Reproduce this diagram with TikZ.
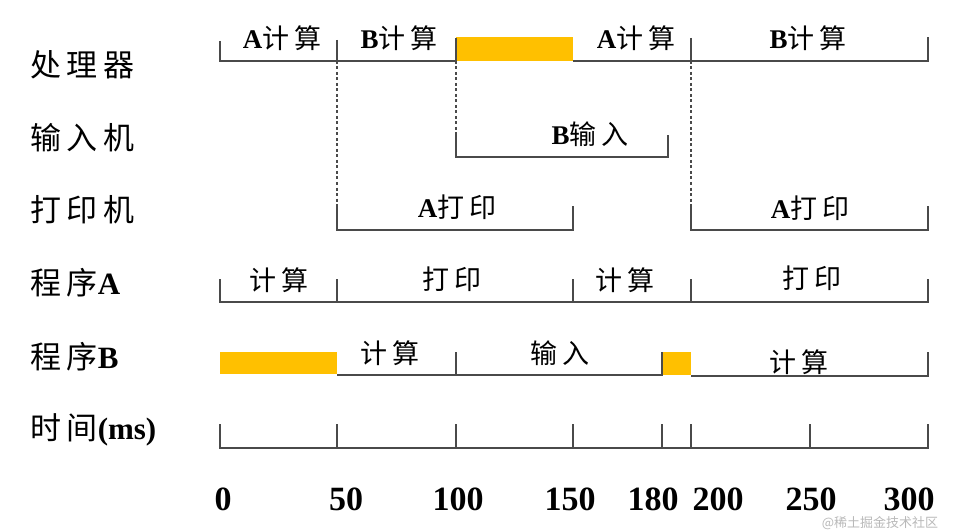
\documentclass[tikz,border=0pt]{standalone}
\usepackage{fontspec}
\setmainfont{Liberation Serif}
\newfontfamily\cjk[LetterSpace=18]{Noto Sans CJK SC}
\newfontfamily\wmfont{Noto Sans CJK SC}
\newcommand\zh[1]{{\cjk #1}}
\newcommand\la[1]{{\bfseries #1}}
\definecolor{linec}{HTML}{4A4A4A}
\definecolor{barfill}{HTML}{FFC000}
\begin{document}
\begin{tikzpicture}[x=1pt,y=-1pt,
  bar/.style={draw=linec,line width=1.6pt},
  guide/.style={draw=linec,line width=1.1pt,dash pattern=on 3pt off 2.5pt},
  busy/.style={fill=barfill,draw=none},
  rowlabel/.style={anchor=west,inner sep=0pt,font=\fontsize{31}{31}\selectfont},
  seglabel/.style={inner sep=0pt,font=\fontsize{27}{27}\selectfont},
  numlabel/.style={inner sep=0pt,font=\fontsize{34}{34}\selectfont\bfseries}]
\useasboundingbox (0,0) rectangle (964,532);
\fill[white] (0,0) rectangle (964,532);

% row labels
\node[rowlabel] (lcpu) at (30,65) {\zh{处理器}};
\node[rowlabel] (lin)  at (30,138) {\zh{输入机}};
\node[rowlabel] (lpr)  at (30,210) {\zh{打印机}};
\node[rowlabel] (lpa)  at (30,283) {\zh{程序}\la{A}};
\node[rowlabel] (lpb)  at (30,357) {\zh{程序}\la{B}};
\node[rowlabel] (lt)   at (30,430) {\zh{时间}\la{(ms)}};

% time coordinates
\coordinate (t0) at (220,0);
\coordinate (t50) at (337,0);
\coordinate (t100) at (456,0);
\coordinate (t150) at (573,0);
\coordinate (t180) at (662,0);
\coordinate (t200) at (691,0);
\coordinate (t250) at (810,0);
\coordinate (t300) at (928,0);

% dashed guides
\draw[guide] (337,61) -- (337,206);
\draw[guide] (456,61) -- (456,135);
\draw[guide] (691,61) -- (691,206);

% processor row
\fill[busy] (456,37) rectangle (573,61);
\draw[bar] (220,41) -- (220,61) -- (456,61);
\draw[bar] (337,40) -- (337,61);
\draw[bar] (456,38) -- (456,61);
\draw[bar] (573,61) -- (928,61) -- (928,37);
\draw[bar] (691,38) -- (691,61);
\node[seglabel] (c1) at (282,38) {\la{A}\zh{计算}};
\node[seglabel] (c2) at (399,38) {\la{B}\zh{计算}};
\node[seglabel] (c3) at (636,38) {\la{A}\zh{计算}};
\node[seglabel] (c4) at (808,38) {\la{B}\zh{计算}};

% input machine row
\draw[bar] (456,135) -- (456,157) -- (668,157) -- (668,135);
\node[seglabel] (i1) at (590,134) {\la{B}\zh{输入}};

% printer row
\draw[bar] (337,206) -- (337,230) -- (573,230) -- (573,206);
\draw[bar] (691,206) -- (691,230) -- (928,230) -- (928,206);
\node[seglabel] (p1) at (457,207) {\la{A}\zh{打印}};
\node[seglabel] (p2) at (810,208) {\la{A}\zh{打印}};

% program A row
\draw[bar] (220,279) -- (220,302) -- (928,302) -- (928,279);
\foreach \x in {337,573,691} \draw[bar] (\x,279) -- (\x,302);
\node[seglabel] (a1) at (279,280) {\zh{计算}};
\node[seglabel] (a2) at (452,279) {\zh{打印}};
\node[seglabel] (a3) at (625,280) {\zh{计算}};
\node[seglabel] (a4) at (812,278) {\zh{打印}};

% program B row
\fill[busy] (220,352) rectangle (337,374);
\fill[busy] (662,352) rectangle (691,375);
\draw[bar] (337,375) -- (662,375) -- (662,352);
\draw[bar] (456,352) -- (456,375);
\draw[bar] (691,376) -- (928,376) -- (928,352);
\node[seglabel] (b1) at (390,353) {\zh{计算}};
\node[seglabel] (b2) at (560,353) {\zh{输入}};
\node[seglabel] (b3) at (799,362) {\zh{计算}};

% time axis
\draw[bar] (220,424) -- (220,448) -- (928,448) -- (928,424);
\foreach \x in {337,456,573,662,691,810} \draw[bar] (\x,424) -- (\x,448);
\node[numlabel] (n0) at (223,499) {0};
\node[numlabel] (n50) at (346,499) {50};
\node[numlabel] (n100) at (458,499) {100};
\node[numlabel] (n150) at (570,499) {150};
\node[numlabel] (n180) at (653,499) {180};
\node[numlabel] (n200) at (718,499) {200};
\node[numlabel] (n250) at (811,499) {250};
\node[numlabel] (n300) at (909,499) {300};

% watermark (kept below the numbers)
\node[inner sep=0pt,text=gray!55,font=\fontsize{13}{13}\selectfont\wmfont] (wm) at (880,523) {@稀土掘金技术社区};
\end{tikzpicture}
\end{document}
